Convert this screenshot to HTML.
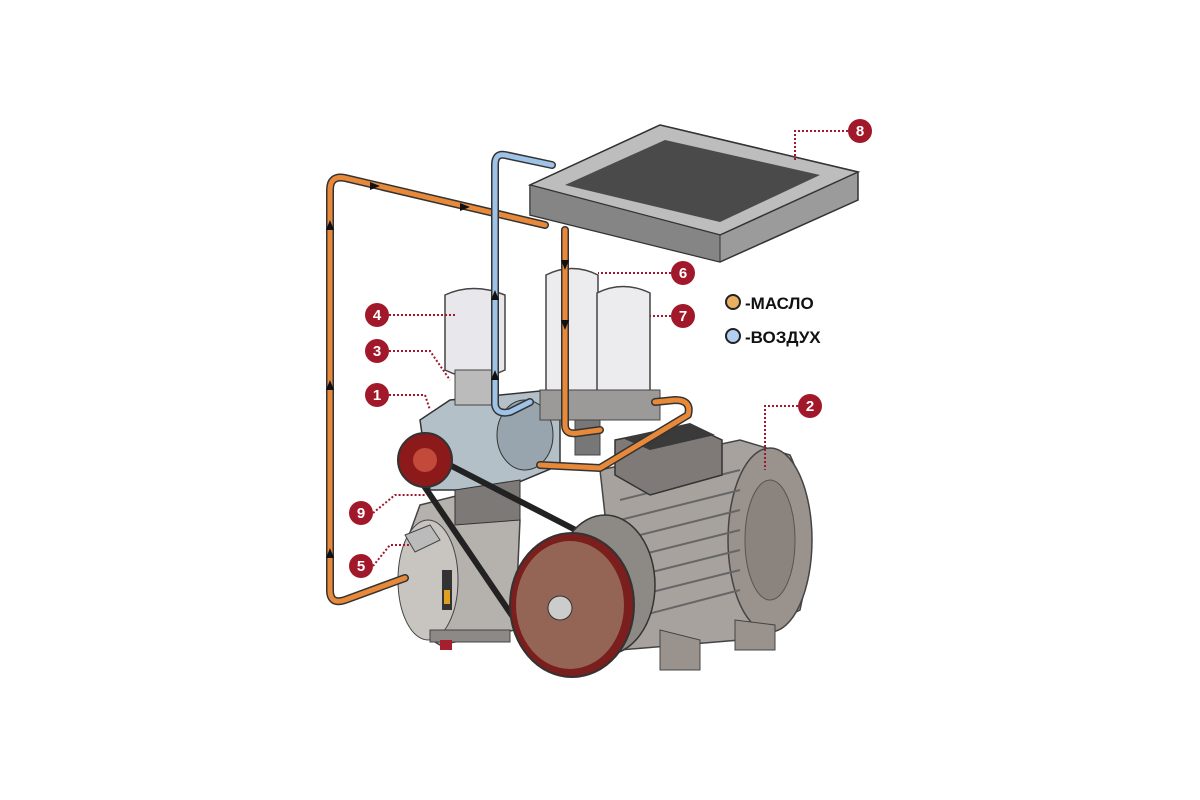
<!DOCTYPE html>
<html><head><meta charset="utf-8"><style>
html,body{margin:0;padding:0;background:#fff;}
svg{display:block}
text{font-family:"Liberation Sans",sans-serif;font-weight:bold}
</style></head><body>
<svg width="1200" height="800" viewBox="0 0 1200 800" xmlns="http://www.w3.org/2000/svg">
<!-- motor -->
<path d="M600,470 L740,440 L790,455 Q820,520 800,610 L740,640 L620,650 Z" fill="#a8a29e" stroke="#444" stroke-width="1.5"/>
<ellipse cx="770" cy="540" rx="42" ry="92" fill="#9a928d" stroke="#444" stroke-width="1.5"/>
<ellipse cx="770" cy="540" rx="25" ry="60" fill="#8b837e" stroke="#555"/>
<g stroke="#666" stroke-width="2">
<line x1="620" y1="500" x2="740" y2="470"/><line x1="620" y1="520" x2="740" y2="490"/><line x1="620" y1="540" x2="740" y2="510"/><line x1="620" y1="560" x2="740" y2="530"/><line x1="620" y1="580" x2="740" y2="550"/><line x1="620" y1="600" x2="740" y2="570"/><line x1="625" y1="620" x2="740" y2="590"/>
</g>
<path d="M660,630 L700,640 L700,670 L660,670 Z" fill="#9a928d" stroke="#444"/>
<path d="M735,620 L775,625 L775,650 L735,650 Z" fill="#9a928d" stroke="#444"/>
<!-- terminal box -->
<path d="M615,440 L690,425 L722,440 L722,475 L650,495 L615,475 Z" fill="#7f7a78" stroke="#333" stroke-width="1.5"/>
<path d="M622,438 L690,423 L715,435 L650,450 Z" fill="#3a3a3a"/>
<!-- tank -->
<path d="M420,505 L500,485 L520,520 L515,630 L440,645 Q395,620 400,560 Z" fill="#b5b1ad" stroke="#444" stroke-width="1.5"/>
<ellipse cx="428" cy="580" rx="30" ry="60" fill="#c8c4c0" stroke="#444"/>
<rect x="442" y="570" width="10" height="40" fill="#333"/><rect x="444" y="590" width="6" height="14" fill="#e0a020"/>
<path d="M405,535 L430,525 L440,540 L415,552 Z" fill="#bbb" stroke="#444"/>
<rect x="430" y="630" width="80" height="12" fill="#8d8986" stroke="#444"/>
<rect x="440" y="640" width="12" height="10" fill="#a51f2e"/>
<!-- compressor block -->
<path d="M420,420 L450,400 L550,390 L560,420 L560,465 L500,490 L430,490 Z" fill="#b4c0c8" stroke="#333" stroke-width="1.5"/>
<ellipse cx="525" cy="435" rx="28" ry="35" fill="#98a5af" stroke="#333"/>
<path d="M455,490 L520,480 L520,520 L455,525 Z" fill="#7d7976" stroke="#333"/>
<!-- belt -->
<path d="M420,480 L515,620 M440,460 L595,540" stroke="#222" stroke-width="6" fill="none"/>
<!-- small pulley -->
<circle cx="425" cy="460" r="27" fill="#8c1a1a" stroke="#333" stroke-width="2"/>
<circle cx="425" cy="460" r="12" fill="#c34a3a"/>
<!-- large pulley -->
<ellipse cx="605" cy="585" rx="50" ry="70" fill="#8d8985" stroke="#333" stroke-width="1.5"/>
<ellipse cx="572" cy="605" rx="62" ry="72" fill="#7a1e1e" stroke="#333" stroke-width="2"/>
<ellipse cx="570" cy="605" rx="54" ry="64" fill="#946555"/>
<circle cx="560" cy="608" r="12" fill="#ccc" stroke="#333"/>
<!-- filter 4 -->
<path d="M445,295 Q473,282 505,295 L505,370 Q475,385 445,370 Z" fill="#e8e8ec" stroke="#444" stroke-width="1.5"/>
<rect x="455" y="370" width="42" height="35" fill="#bbb" stroke="#444"/>
<!-- filters 6 7 -->
<path d="M546,275 Q572,262 598,275 L598,395 Q572,405 546,395 Z" fill="#ececee" stroke="#444" stroke-width="1.5"/>
<path d="M597,293 Q623,280 650,293 L650,400 Q623,410 597,400 Z" fill="#ececee" stroke="#444" stroke-width="1.5"/>
<rect x="540" y="390" width="120" height="30" fill="#9c9a98" stroke="#444"/>
<rect x="575" y="420" width="25" height="35" fill="#777" stroke="#444"/>
<!-- cooler -->
<path d="M530,185 L660,125 L858,172 L858,200 L720,262 L530,215 Z" fill="#9b9b9b" stroke="#333" stroke-width="1.5"/>
<path d="M530,185 L660,125 L858,172 L720,235 Z" fill="#bdbdbd" stroke="#333" stroke-width="1.5"/>
<path d="M565,185 L665,140 L820,175 L720,222 Z" fill="#4a4a4a"/>
<path d="M530,185 L720,235 L720,262 L530,215 Z" fill="#858585" stroke="#333"/>
<!-- pipes -->
<g fill="none" stroke-linecap="round" stroke-linejoin="round">
<path d="M545,225 L345,178 Q330,175 330,190 L330,590 Q330,605 345,600 L405,578" stroke="#333" stroke-width="8"/>
<path d="M545,225 L345,178 Q330,175 330,190 L330,590 Q330,605 345,600 L405,578" stroke="#e8893a" stroke-width="5"/>
<path d="M565,230 L565,425 Q565,435 578,433 L600,430" stroke="#333" stroke-width="8"/>
<path d="M565,230 L565,425 Q565,435 578,433 L600,430" stroke="#e8893a" stroke-width="5"/>
<path d="M540,465 L600,468 L688,415 Q692,400 675,400 L655,402" stroke="#333" stroke-width="8"/>
<path d="M540,465 L600,468 L688,415 Q692,400 675,400 L655,402" stroke="#e8893a" stroke-width="5"/>
<path d="M552,165 L505,155 Q495,153 495,165 L495,405 Q497,415 510,412 L530,402" stroke="#333" stroke-width="8"/>
<path d="M552,165 L505,155 Q495,153 495,165 L495,405 Q497,415 510,412 L530,402" stroke="#9ec3e6" stroke-width="5"/>
</g>
<g fill="#111">
<polygon points="330,220 326,230 334,230"/><polygon points="330,380 326,390 334,390"/><polygon points="330,548 326,558 334,558"/>
<polygon points="380,186 370,182 370,190"/><polygon points="470,207 460,203 460,211"/>
<polygon points="565,270 561,260 569,260"/><polygon points="565,330 561,320 569,320"/>
<polygon points="495,290 491,300 499,300"/><polygon points="495,370 491,380 499,380"/>
</g>
<!-- leaders -->
<g stroke="#a0182a" stroke-width="2" stroke-dasharray="2,2" fill="none">
<path d="M848,131 L795,131 L795,160"/>
<path d="M671,273 L598,273"/>
<path d="M671,316 L650,316"/>
<path d="M798,406 L765,406 L765,470"/>
<path d="M389,315 L455,315"/>
<path d="M389,351 L430,351 L450,380"/>
<path d="M389,395 L425,395 L430,410"/>
<path d="M373,513 L395,495 L425,495"/>
<path d="M373,566 L390,545 L410,545"/>
</g>
<g fill="#a0182a">
<circle cx="860" cy="131" r="12"/><circle cx="683" cy="273" r="12"/><circle cx="683" cy="316" r="12"/>
<circle cx="810" cy="406" r="12"/><circle cx="377" cy="315" r="12"/><circle cx="377" cy="351" r="12"/>
<circle cx="377" cy="395" r="12"/><circle cx="361" cy="513" r="12"/><circle cx="361" cy="566" r="12"/>
</g>
<g fill="#fff" font-size="15" text-anchor="middle">
<text x="860" y="136">8</text><text x="683" y="278">6</text><text x="683" y="321">7</text>
<text x="810" y="411">2</text><text x="377" y="320">4</text><text x="377" y="356">3</text>
<text x="377" y="400">1</text><text x="361" y="518">9</text><text x="361" y="571">5</text>
</g>
<!-- legend -->
<circle cx="733" cy="302" r="7" fill="#e8b060" stroke="#222" stroke-width="2"/>
<circle cx="733" cy="336" r="7" fill="#b4d0f0" stroke="#222" stroke-width="2"/>
<text x="745" y="309" font-size="17" fill="#111" font-weight="normal">-МАСЛО</text>
<text x="745" y="343" font-size="17" fill="#111" font-weight="normal">-ВОЗДУХ</text>
</svg>
</body></html>
